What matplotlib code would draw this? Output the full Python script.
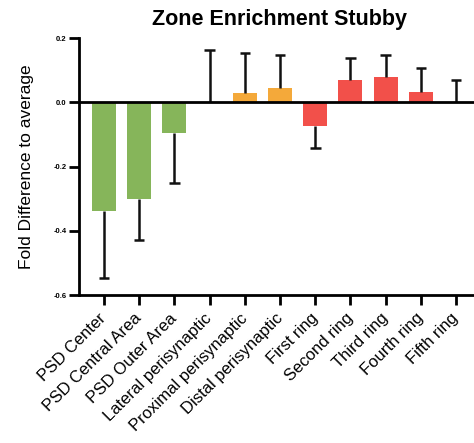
import numpy as np
import matplotlib.pyplot as plt
import matplotlib.transforms as mtransforms

zones = ["PSD Center", "PSD Central Area", "PSD Outer Area", "Lateral perisynaptic",
         "Proximal perisynaptic", "Distal perisynaptic", "First ring", "Second ring",
         "Third ring", "Fourth ring", "Fifth ring"]
fold_diff = [-0.337, -0.300, -0.097, 0.0, 0.029, 0.046, -0.073, 0.069, 0.078, 0.031, 0.002]
sem = [0.210, 0.128, 0.153, 0.162, 0.125, 0.101, 0.070, 0.068, 0.069, 0.077, 0.067]
colors = ["#86B55A"] * 3 + ["#F4A93A"] * 3 + ["#F2504A"] * 5

plt.rcParams['font.family'] = ['Liberation Sans', 'DejaVu Sans']

fig = plt.figure(figsize=(4.74, 4.43), dpi=100)
ax = fig.add_axes([0.1667, 0.334, 0.84, 0.58])

x = np.arange(len(zones))
vals = np.array(fold_diff)
errs = np.array(sem)
# one-sided error bars, pointing away from zero
ends = np.where(vals < 0, vals - errs, vals + errs)
ax.bar(x, vals, width=0.68, color=colors, zorder=2)
ax.vlines(x, vals, ends, color='#111111', lw=1.8, zorder=3)
ax.hlines(ends, x - 0.15, x + 0.15, color='#111111', lw=1.8, zorder=3)
ax.axhline(0, color='black', lw=2, zorder=4)

ax.set_xlim(-0.71, 10.6)
ax.set_ylim(-0.6, 0.2)
ax.set_yticks([-0.6, -0.4, -0.2, 0.0, 0.2])
ax.set_yticklabels(["-0.6", "-0.4", "-0.2", "0.0", "0.2"], fontsize=5.5, fontweight='bold')
ax.set_xticks(x)
ax.set_xticklabels(zones, rotation=45, ha='right', va='center', rotation_mode='anchor',
                   fontsize=12)
shift = mtransforms.ScaledTranslation(6 / 100, -4 / 100, fig.dpi_scale_trans)
for lbl in ax.get_xticklabels():
    lbl.set_transform(lbl.get_transform() + shift)
ax.tick_params(axis='both', width=2, length=7, colors='black')
ax.tick_params(axis='y', pad=2)
ax.tick_params(axis='x', pad=8)
for s in ['top', 'right']:
    ax.spines[s].set_visible(False)
for s in ['left', 'bottom']:
    ax.spines[s].set_linewidth(2)

ax.set_ylabel("Fold Difference to average", fontsize=12.5, labelpad=14)
fig.text(0.59, 0.955, "Zone Enrichment Stubby", ha='center', va='center',
         fontsize=15.5, fontweight='bold')

fig.savefig("out.png", dpi=100)
